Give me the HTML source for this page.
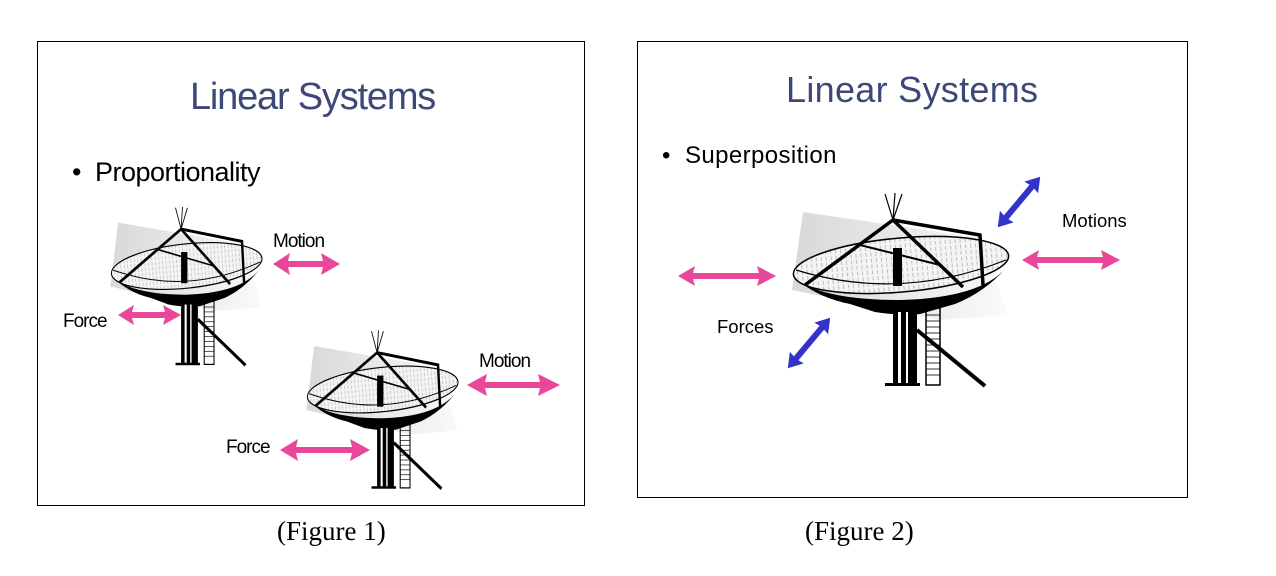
<!DOCTYPE html>
<html><head><meta charset="utf-8"><style>
body{margin:0;background:#fff;width:1276px;height:576px;overflow:hidden;position:relative;font-family:"Liberation Sans",sans-serif}
.box{position:absolute;border:1.5px solid #000;box-sizing:border-box}
.t{position:absolute;white-space:nowrap}
</style></head><body>
<div class="box" style="left:37px;top:41px;width:548px;height:465px"></div>
<div class="box" style="left:637px;top:41px;width:551px;height:457px"></div>
<svg width="1276" height="576" style="position:absolute;left:0;top:0">
<defs>
<linearGradient id="g" x1="0" x2="1"><stop offset="0" stop-color="#d8d8d8"/><stop offset="1" stop-color="#fafafa"/></linearGradient>
<pattern id="p" width="5" height="6" patternUnits="userSpaceOnUse"><rect width="5" height="6" fill="#f4f4f4"/><line x1="2" y1="0" x2="2" y2="4" stroke="#999" stroke-width="0.6"/></pattern>
<g id="dish">
<polygon points="23,22 200,48 228,125 160,130 12,100" fill="url(#g)"/>
<path d="M20,92 Q40,108 70,114 L95,122 Q120,126 140,124 L175,114 Q205,102 226,78 Q200,108 120,110 Q50,110 20,92Z" fill="#000"/>
<rect x="113" y="118" width="24" height="77" fill="#000"/>
<rect x="118" y="122" width="3" height="72" fill="#fff"/>
<rect x="126" y="122" width="2" height="72" fill="#fff"/>
<rect x="146" y="118" width="14" height="77" fill="none" stroke="#000" stroke-width="1.5"/>
<g stroke="#000" stroke-width="0.8"><line x1="146" y1="125" x2="160" y2="125"/><line x1="146" y1="131" x2="160" y2="131"/><line x1="146" y1="137" x2="160" y2="137"/><line x1="146" y1="143" x2="160" y2="143"/><line x1="146" y1="149" x2="160" y2="149"/><line x1="146" y1="155" x2="160" y2="155"/><line x1="146" y1="161" x2="160" y2="161"/><line x1="146" y1="167" x2="160" y2="167"/><line x1="146" y1="173" x2="160" y2="173"/><line x1="146" y1="179" x2="160" y2="179"/><line x1="146" y1="185" x2="160" y2="185"/></g>
<line x1="137" y1="140" x2="205" y2="196" stroke="#000" stroke-width="4"/>
<rect x="105" y="193" width="35" height="3" fill="#000"/>
<ellipse cx="121" cy="75" rx="108" ry="27" transform="rotate(-5 121 75)" fill="url(#p)" stroke="#000" stroke-width="1.5"/>
<path d="M16,80 Q120,112 226,70" fill="none" stroke="#000" stroke-width="1.2"/>
<g stroke="#000" stroke-width="3.5" fill="none"><line x1="113" y1="30" x2="25" y2="95"/><line x1="113" y1="30" x2="183" y2="97"/><path d="M113,30 L200,45 L203,95"/></g>
<line x1="80" y1="55" x2="160" y2="75" stroke="#000" stroke-width="2"/>
<rect x="113" y="58" width="9" height="38" fill="#000"/>
<g stroke="#000" stroke-width="1.2"><line x1="113" y1="30" x2="105" y2="4"/><line x1="113" y1="30" x2="115" y2="3"/><line x1="113" y1="30" x2="122" y2="4"/></g>
</g>
</defs>
<use href="#dish" transform="translate(780 190)"/>
<use href="#dish" transform="translate(102 204.5) scale(0.7 0.82)"/>
<use href="#dish" transform="translate(298 328) scale(0.7 0.82)"/>
<g fill="#e8479a">
<polygon points="273,264 290,253 288,261 323,261 321,253 340,264 321,275 323,267 288,267 290,275"/>
<polygon points="118,315 134,305 132,312 165,312 163,305 181,315 163,325 165,318 132,318 134,325"/>
<polygon points="467,385 487,374 485,382 540,382 538,374 560,385 538,396 540,388 485,388 487,396"/>
<polygon points="280,450 298,439 296,447 352,447 350,439 370,450 350,461 352,453 296,453 298,461"/>
<polygon points="678,276 695,266 693,273 759,273 757,266 776,276 757,286 759,279 693,279 695,286"/>
<polygon points="1022,260 1039,250 1037,257 1103,257 1101,250 1120,260 1101,270 1103,263 1037,263 1039,270"/>
</g>
<g fill="#3333cc">
<polygon transform="translate(1019 202) rotate(-50)" points="-33,0 -19,-9 -20,-3 20,-3 19,-9 33,0 19,9 20,3 -20,3 -19,9"/>
<polygon transform="translate(809 343) rotate(-50)" points="-33,0 -19,-9 -20,-3 20,-3 19,-9 33,0 19,9 20,3 -20,3 -19,9"/>
</g>
</svg>
<div class="t" style="left:190px;top:76px;font-size:38px;color:#3c4878;letter-spacing:-1.2px">Linear Systems</div>
<div class="t" style="left:786px;top:69px;font-size:36px;color:#3c4878;letter-spacing:0.3px">Linear Systems</div>
<div class="t" style="left:72px;top:157px;font-size:27px;letter-spacing:-0.5px">•&nbsp; Proportionality</div>
<div class="t" style="left:662px;top:142px;font-size:24px;letter-spacing:0.4px">•&nbsp; Superposition</div>
<div class="t" style="left:273px;top:231px;font-size:19px;letter-spacing:-1px">Motion</div>
<div class="t" style="left:63px;top:311px;font-size:19px;letter-spacing:-1px">Force</div>
<div class="t" style="left:479px;top:351px;font-size:19px;letter-spacing:-1px">Motion</div>
<div class="t" style="left:226px;top:437px;font-size:19px;letter-spacing:-1px">Force</div>
<div class="t" style="left:1062px;top:210px;font-size:18.5px">Motions</div>
<div class="t" style="left:717px;top:316px;font-size:18.5px">Forces</div>
<div class="t" style="left:277px;top:516px;font-size:27px;font-family:'Liberation Serif',serif">(Figure 1)</div>
<div class="t" style="left:805px;top:516px;font-size:27px;font-family:'Liberation Serif',serif">(Figure 2)</div>
</body></html>
